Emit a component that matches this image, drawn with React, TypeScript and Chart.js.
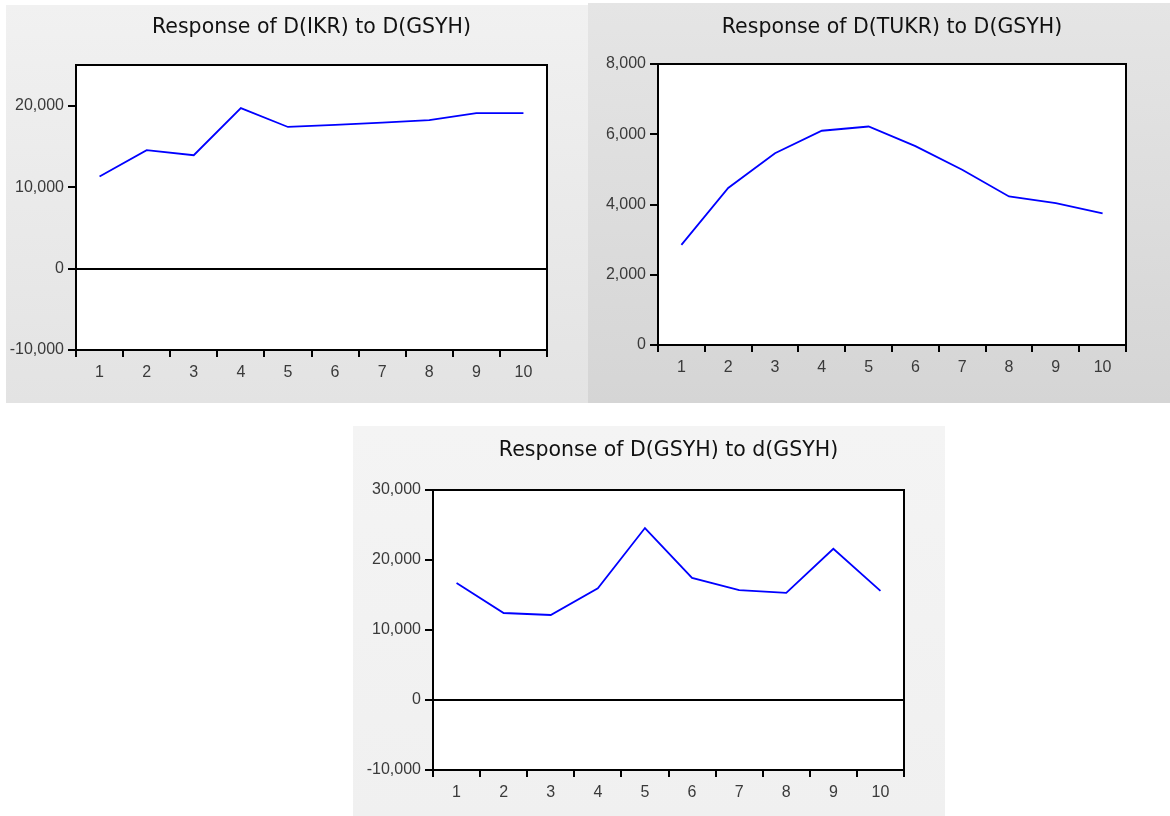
import React, { useEffect, useRef } from 'react';
import { Chart, registerables } from 'chart.js';

Chart.register(...registerables);

const periods = ['1', '2', '3', '4', '5', '6', '7', '8', '9', '10'];
const ikrResponse = [11310, 14540, 13920, 19700, 17390, 17640, 17930, 18220, 19080, 19100];
const tukrResponse = [2850, 4470, 5460, 6100, 6220, 5660, 4990, 4230, 4040, 3750];
const gsyhResponse = [16700, 12430, 12140, 15950, 24570, 17430, 15700, 15300, 21600, 15600];

const titles = [
  'Response of D(IKR) to D(GSYH)',
  'Response of D(TUKR) to D(GSYH)',
  'Response of D(GSYH) to d(GSYH)',
];

// [min, max]
const ikrRange = [-10000, 25000];
const tukrRange = [0, 8000];
const gsyhRange = [-10000, 30000];

const ikrTicks = [-10000, 0, 10000, 20000];
const tukrTicks = [0, 2000, 4000, 6000, 8000];
const gsyhTicks = [-10000, 0, 10000, 20000, 30000];

type PanelProps = {
  title: string;
  values: number[];
  range: number[];
  ticks: number[];
  left: number;
  top: number;
  width: number;
  height: number;
  bg: string;
  areaLeft: number;
  areaTop: number;
  padRight: number;
  padBottom: number;
  titleY: number;
};

const TICK_FONT = { family: 'Liberation Sans', size: 16 };
const TITLE_FONT = '20.5px "DejaVu Sans"';

function Panel(p: PanelProps) {
  const ref = useRef<HTMLCanvasElement | null>(null);
  useEffect(() => {
    if (!ref.current) return;
    const framePlugin = {
      id: 'frame',
      beforeDraw(chart: any) {
        const { ctx, chartArea: a } = chart;
        ctx.save();
        ctx.fillStyle = '#ffffff';
        ctx.fillRect(a.left, a.top, a.right - a.left, a.bottom - a.top);
        ctx.restore();
      },
      afterDraw(chart: any) {
        const { ctx, chartArea: a } = chart;
        ctx.save();
        ctx.strokeStyle = '#000';
        ctx.lineWidth = 2;
        ctx.strokeRect(a.left, a.top, a.right - a.left, a.bottom - a.top);
        ctx.fillStyle = '#111';
        ctx.font = TITLE_FONT;
        ctx.textAlign = 'center';
        ctx.textBaseline = 'middle';
        ctx.fillText(p.title, (a.left + a.right) / 2, p.titleY);
        ctx.restore();
      },
    };
    const chart = new Chart(ref.current, {
      type: 'line',
      data: {
        labels: periods,
        datasets: [
          {
            data: p.values,
            borderColor: '#0000ff',
            borderWidth: 1.8,
            pointRadius: 0,
            tension: 0,
            fill: false,
          },
        ],
      },
      options: {
        animation: false,
        responsive: false,
        events: [],
        layout: { padding: { top: p.areaTop, right: p.padRight, left: 0, bottom: 0 } },
        plugins: { legend: { display: false }, tooltip: { enabled: false }, title: { display: false } },
        scales: {
          x: {
            type: 'category',
            offset: true,
            grid: {
              offset: true,
              drawOnChartArea: false,
              color: '#000',
              lineWidth: 2,
              tickLength: 7,
            },
            border: { display: false },
            ticks: { font: TICK_FONT, color: '#3a3a3a', padding: 6, maxRotation: 0, autoSkip: false },
            afterFit: (s: any) => {
              s.height = p.padBottom;
            },
          },
          y: {
            min: p.range[0],
            max: p.range[1],
            grid: {
              color: (c: any) => (c.tick && c.tick.value === 0 ? '#000' : 'rgba(0,0,0,0)'),
              tickColor: '#000',
              lineWidth: 2,
              tickLength: 8,
            },
            border: { display: false },
            ticks: {
              font: TICK_FONT,
              color: '#3a3a3a',
              padding: 4,
            },
            afterBuildTicks: (s: any) => {
              s.ticks = p.ticks.map((v) => ({ value: v }));
            },
            afterFit: (s: any) => {
              s.width = p.areaLeft;
            },
          },
        },
      },
      plugins: [framePlugin],
    } as any);
    return () => chart.destroy();
  }, []);
  return (
    <div
      style={{
        position: 'absolute',
        left: p.left,
        top: p.top,
        width: p.width,
        height: p.height,
        background: p.bg,
      }}
    >
      <canvas ref={ref} width={p.width} height={p.height} style={{ width: p.width, height: p.height, display: 'block' }} />
    </div>
  );
}

export default function App() {
  return (
    <div style={{ position: 'absolute', left: 0, top: 0, width: 1170, height: 816, background: '#fff', overflow: 'hidden' }}>
      <Panel
        title={titles[0]}
        values={ikrResponse}
        range={ikrRange}
        ticks={ikrTicks}
        left={6}
        top={5}
        width={582}
        height={398}
        bg="linear-gradient(#f1f1f1, #e3e3e3)"
        areaLeft={70}
        areaTop={60}
        padRight={41}
        padBottom={53}
        titleY={22.5}
      />
      <Panel
        title={titles[1]}
        values={tukrResponse}
        range={tukrRange}
        ticks={tukrTicks}
        left={588}
        top={3}
        width={582}
        height={400}
        bg="linear-gradient(#e5e5e5, #d5d5d5)"
        areaLeft={70}
        areaTop={61}
        padRight={44}
        padBottom={58}
        titleY={24.5}
      />
      <Panel
        title={titles[2]}
        values={gsyhResponse}
        range={gsyhRange}
        ticks={gsyhTicks}
        left={353}
        top={426}
        width={592}
        height={390}
        bg="linear-gradient(#f4f4f4, #f0f0f0)"
        areaLeft={80}
        areaTop={64}
        padRight={41}
        padBottom={46}
        titleY={25}
      />
    </div>
  );
}
